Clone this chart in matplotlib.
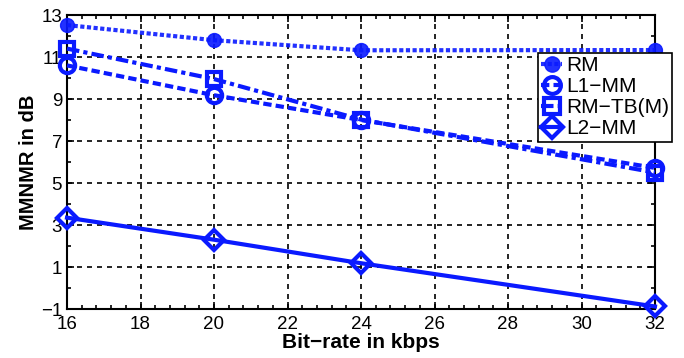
import matplotlib
matplotlib.use("Agg")
import matplotlib.pyplot as plt
from matplotlib.ticker import MultipleLocator

bitrate = [16, 20, 24, 32]
rm = [12.52, 11.8, 11.32, 11.33]
l1_mm = [10.6, 9.18, 8.0, 5.72]
rm_tb = [11.4, 9.95, 8.02, 5.5]
l2_mm = [3.35, 2.3, 1.18, -0.88]
labels = ["RM", "L1\u2212MM", "RM\u2212TB(M)", "L2\u2212MM"]

plt.rcParams['font.family'] = ['Liberation Sans', 'DejaVu Sans']
fig = plt.figure(figsize=(6.84, 3.58), dpi=100)
ax = fig.add_axes([67/684, 1 - 309/358, (655-67)/684, (309-15)/358])

blue = '#0a1aff'
ax.plot(bitrate, rm, linestyle=(0, (1, 0.6)), color=blue, lw=3, marker='o', ms=10, mfc=blue, mec=blue, label=labels[0], alpha=0.9, clip_on=False, zorder=3)
ax.plot(bitrate, l1_mm, linestyle=(0, (2, 1)), color=blue, lw=3, marker='o', ms=11, mfc='none', mec=blue, mew=3, label=labels[1], clip_on=False, zorder=3)
ax.plot(bitrate, rm_tb, linestyle=(0, (3, 1, 1, 1)), color=blue, lw=3, marker='s', ms=10, mfc='none', mec=blue, mew=3, label=labels[2], clip_on=False, zorder=3)
ax.plot(bitrate, l2_mm, linestyle='-', color=blue, lw=3, marker='D', ms=10, mfc='none', mec=blue, mew=3, label=labels[3], clip_on=False, zorder=3)

ax.set_xlim(16, 32)
ax.set_ylim(-1, 13)
ax.set_xticks(range(16, 33, 2))
ax.set_yticks(range(-1, 14, 2))
ax.yaxis.set_major_formatter(matplotlib.ticker.FuncFormatter(lambda v, p: f"{int(v)}".replace('-', '\u2212')))
ax.xaxis.set_minor_locator(MultipleLocator(0.4))
ax.yaxis.set_minor_locator(MultipleLocator(1))
ax.tick_params(which='both', direction='in', top=True, right=True, labelsize=13.5, width=1.2)
ax.tick_params(axis='x', pad=5)
ax.tick_params(which='major', length=5)
ax.tick_params(which='minor', length=3)
ax.grid(True, which='major', linestyle=(0, (3, 3)), color='black', lw=1.2)
for s in ax.spines.values():
    s.set_linewidth(1.5)
ax.set_xlabel("Bit\u2212rate in kbps", fontsize=15, fontweight='bold', labelpad=0)
ax.set_ylabel("MMNMR in dB", fontsize=14.5, fontweight='bold', labelpad=2)

leg = ax.legend(loc='upper left', bbox_to_anchor=(538/684, 1 - 53/358), bbox_transform=fig.transFigure,
                fontsize=15, frameon=True, fancybox=False, edgecolor='black', framealpha=1,
                handlelength=1.0, handletextpad=0.2, borderpad=0.15, labelspacing=0.1, borderaxespad=0,
                markerscale=1.1)
leg.get_frame().set_linewidth(1.2)
leg.set_zorder(5)

fig.savefig("out.png", dpi=100)
